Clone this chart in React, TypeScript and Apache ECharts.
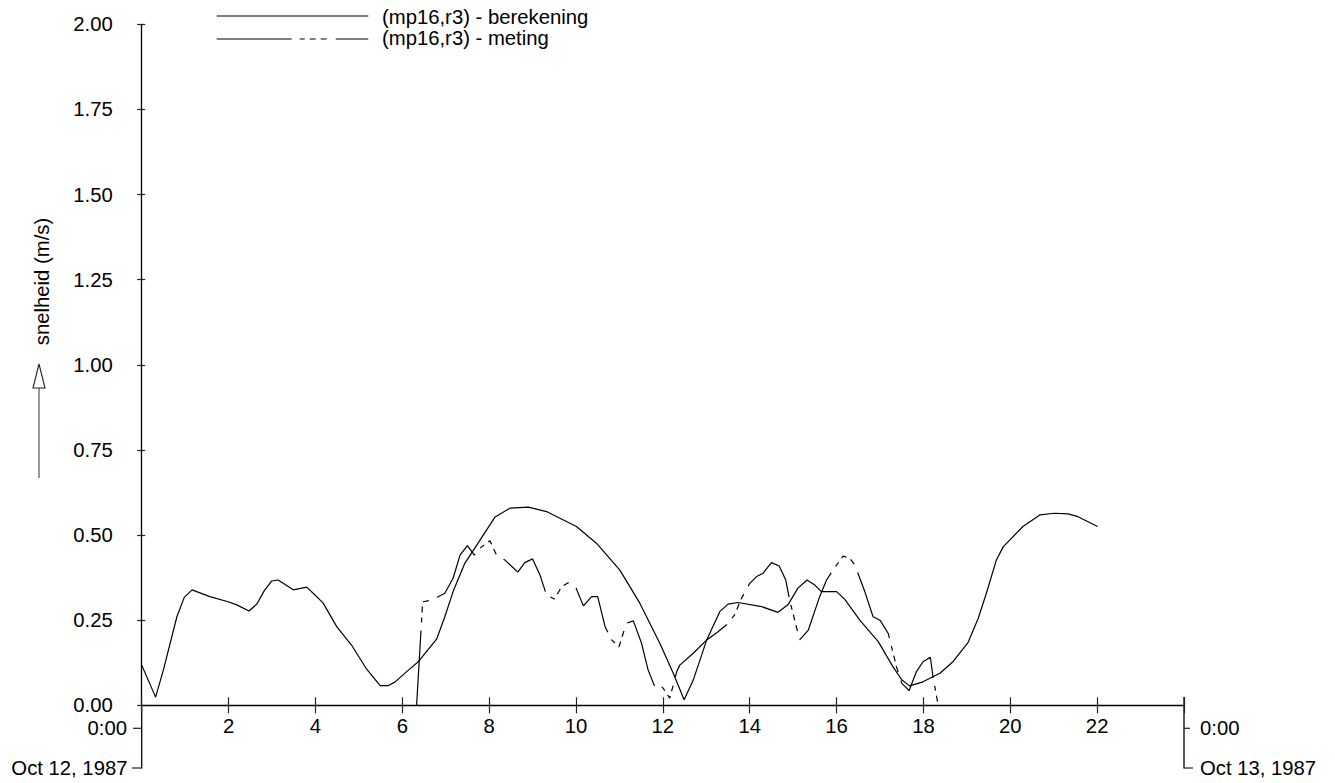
import React, { useEffect, useRef } from "react";
import * as echarts from "echarts";

const xTicks = [0, 2, 4, 6, 8, 10, 12, 14, 16, 18, 20, 22, 24];
const yTicks = [0, 0.25, 0.5, 0.75, 1.0, 1.25, 1.5, 1.75, 2.0];

const berekeningUur = [
  0, 0.32, 0.5, 0.81, 0.98, 1.16, 1.57, 1.99, 2.19, 2.47, 2.65, 2.82, 2.99, 3.14, 3.49, 3.8, 3.99, 4.18,
  4.49, 4.83, 5.18, 5.49, 5.68, 5.83, 6.1, 6.37, 6.79, 6.98, 7.17, 7.44, 7.79, 8.13, 8.48, 8.9, 9.32,
  10.01, 10.47, 11.01, 11.47, 11.93, 12.24, 12.49, 12.7, 13.01, 13.31, 13.5, 13.73, 14.27, 14.65, 14.88,
  15.11, 15.32, 15.5, 15.65, 16.0, 16.19, 16.53, 16.96, 17.3, 17.5, 17.68, 17.99, 18.38, 18.68, 19.03,
  19.26, 19.45, 19.68, 19.84, 20.29, 20.68, 21.02, 21.33, 21.56, 22.01,
];
const berekeningWaarde = [
  0.118, 0.024, 0.104, 0.26, 0.317, 0.339, 0.319, 0.304, 0.295, 0.277, 0.297, 0.336, 0.365, 0.368, 0.339,
  0.347, 0.324, 0.3, 0.231, 0.177, 0.106, 0.058, 0.058, 0.068, 0.099, 0.128, 0.194, 0.26, 0.334, 0.417,
  0.485, 0.552, 0.579, 0.582, 0.569, 0.525, 0.476, 0.397, 0.3, 0.182, 0.094, 0.016, 0.074, 0.192, 0.275,
  0.297, 0.302, 0.29, 0.273, 0.295, 0.344, 0.368, 0.353, 0.334, 0.334, 0.311, 0.251, 0.187, 0.113, 0.075,
  0.057, 0.069, 0.094, 0.128, 0.185, 0.255, 0.329, 0.427, 0.466, 0.525, 0.559, 0.564, 0.562, 0.554, 0.525,
];

const metingUur = [
  6.33, 6.47, 6.68, 6.98, 7.17, 7.33, 7.5, 7.66, 7.83, 8.02, 8.17, 8.36, 8.66, 8.82, 9.0, 9.17, 9.32, 9.5,
  9.67, 9.82, 9.99, 10.17, 10.36, 10.5, 10.67, 10.82, 10.99, 11.16, 11.32, 11.51, 11.66, 11.82, 11.99,
  12.16, 12.32, 12.39, 12.7, 13.01, 13.27, 13.46, 13.65, 13.81, 14.0, 14.16, 14.31, 14.5, 14.68, 14.83,
  14.92, 15.15, 15.35, 15.61, 15.77, 15.96, 16.15, 16.3, 16.42, 16.65, 16.84, 17.0, 17.19, 17.38, 17.5,
  17.67, 17.84, 17.99, 18.16, 18.22, 18.34,
];
const metingWaarde = [
  0.0, 0.304, 0.309, 0.329, 0.373, 0.441, 0.469, 0.441, 0.466, 0.483, 0.441, 0.427, 0.391, 0.419, 0.43,
  0.383, 0.324, 0.312, 0.348, 0.36, 0.348, 0.292, 0.319, 0.319, 0.231, 0.192, 0.172, 0.241, 0.248, 0.182,
  0.104, 0.053, 0.053, 0.021, 0.099, 0.118, 0.153, 0.192, 0.216, 0.236, 0.265, 0.314, 0.358, 0.378, 0.388,
  0.419, 0.409, 0.368, 0.309, 0.192, 0.221, 0.319, 0.368, 0.405, 0.438, 0.432, 0.412, 0.334, 0.26, 0.25,
  0.211, 0.113, 0.065, 0.043, 0.099, 0.128, 0.141, 0.084, 0.0,
];

const legendNames = ["(mp16,r3) - berekening", "(mp16,r3) - meting"];
const yTitle = "snelheid (m/s)";
const startLabels = ["0:00", "Oct 12, 1987"];
const endLabels = ["0:00", "Oct 13, 1987"];

const FONT = "'Liberation Sans', Arial, Helvetica, sans-serif";
const FS = 20.3;
const DASH = [75, 8, 5, 5, 6, 5, 6, 9];

export default function App() {
  const ref = useRef<HTMLDivElement>(null);
  useEffect(() => {
    if (!ref.current) return;
    const chart = echarts.init(ref.current, null, { renderer: "svg" });
    const X0 = 141.7;
    const X1 = 1184;
    const Y0 = 705.3;
    const Y1 = 24.3;
    const tickColor = "#222";
    const option: any = {
      animation: false,
      backgroundColor: "#fff",
      grid: { left: X0, right: 1335 - X1, top: Y1, bottom: 783 - Y0, containLabel: false },
      xAxis: [
        {
          type: "value",
          min: xTicks[0],
          max: xTicks[xTicks.length - 1],
          interval: 2,
          axisLine: { show: true, onZero: false, lineStyle: { color: "#000", width: 1.3 } },
          axisTick: { show: true, length: 8, lineStyle: { color: tickColor, width: 1.2 } },
          axisLabel: {
            margin: 11,
            fontSize: FS,
            fontFamily: FONT,
            color: "#000",
            formatter: (v: number) => (v === 0 || v === 24 ? "" : String(v)),
          },
          splitLine: { show: false },
        },
        {
          type: "value",
          min: xTicks[0],
          max: xTicks[xTicks.length - 1],
          interval: 2,
          position: "bottom",
          axisLine: { show: false, onZero: false },
          axisTick: { show: true, inside: true, length: 8, lineStyle: { color: tickColor, width: 1.2 } },
          axisLabel: { show: false },
          splitLine: { show: false },
        },
      ],
      yAxis: [
        {
          type: "value",
          min: yTicks[0],
          max: yTicks[yTicks.length - 1],
          interval: 0.25,
          axisLine: { show: true, onZero: false, lineStyle: { color: "#000", width: 1.3 } },
          axisTick: { show: true, length: 4.5, lineStyle: { color: tickColor, width: 1.2 } },
          axisLabel: {
            margin: 29,
            fontSize: FS,
            fontFamily: FONT,
            color: "#000",
            formatter: (v: number) => v.toFixed(2),
          },
          splitLine: { show: false },
        },
        {
          type: "value",
          min: yTicks[0],
          max: yTicks[yTicks.length - 1],
          interval: 0.25,
          position: "left",
          axisLine: { show: false, onZero: false },
          axisTick: { show: true, inside: true, length: 3.5, lineStyle: { color: tickColor, width: 1.2 } },
          axisLabel: { show: false },
          splitLine: { show: false },
        },
      ],
      series: [
        {
          name: legendNames[0],
          type: "line",
          xAxisIndex: 0,
          yAxisIndex: 0,
          symbol: "none",
          data: berekeningUur.map((h, i) => [h, berekeningWaarde[i]]),
          lineStyle: { color: "#000", width: 1.2 },
        },
        {
          name: legendNames[1],
          type: "line",
          xAxisIndex: 0,
          yAxisIndex: 0,
          symbol: "none",
          data: metingUur.map((h, i) => [h, metingWaarde[i]]),
          lineStyle: { color: "#000", width: 1.2, type: DASH },
        },
      ],
      graphic: [
        // legend
        { type: "line", shape: { x1: 216.7, y1: 16, x2: 368.3, y2: 16 }, style: { stroke: "#000", lineWidth: 1.2 } },
        {
          type: "text",
          x: 382,
          y: 17,
          style: { text: legendNames[0], font: `${FS}px ${FONT}`, fill: "#000", textAlign: "left", textVerticalAlign: "middle" },
        },
        {
          type: "line",
          shape: { x1: 216.7, y1: 39, x2: 368.3, y2: 39 },
          style: { stroke: "#000", lineWidth: 1.2, lineDash: DASH },
        },
        {
          type: "text",
          x: 382,
          y: 38,
          style: { text: legendNames[1], font: `${FS}px ${FONT}`, fill: "#000", textAlign: "left", textVerticalAlign: "middle" },
        },
        // y title
        {
          type: "text",
          x: 41.7,
          y: 281.5,
          rotation: Math.PI / 2,
          style: { text: yTitle, font: `${FS}px ${FONT}`, fill: "#000", textAlign: "center", textVerticalAlign: "middle" },
        },
        { type: "line", shape: { x1: 39, y1: 478, x2: 39, y2: 388 }, style: { stroke: "#555", lineWidth: 1.2 } },
        {
          type: "polygon",
          shape: { points: [[33, 388], [45, 388], [39, 364]] },
          style: { fill: "#fff", stroke: "#222", lineWidth: 1.1 },
        },
        // left bracket
        { type: "line", shape: { x1: X0, y1: Y0, x2: X0, y2: 768.5 }, style: { stroke: "#000", lineWidth: 1.3 } },
        { type: "line", shape: { x1: 133, y1: 728.3, x2: X0, y2: 728.3 }, style: { stroke: tickColor, lineWidth: 1.2 } },
        { type: "line", shape: { x1: 131.7, y1: 768, x2: X0, y2: 768 }, style: { stroke: tickColor, lineWidth: 1.2 } },
        {
          type: "text",
          x: 127,
          y: 728.3,
          style: { text: startLabels[0], font: `${FS}px ${FONT}`, fill: "#000", textAlign: "right", textVerticalAlign: "middle" },
        },
        {
          type: "text",
          x: 127.5,
          y: 768,
          style: { text: startLabels[1], font: `${FS}px ${FONT}`, fill: "#000", textAlign: "right", textVerticalAlign: "middle" },
        },
        // right bracket
        { type: "line", shape: { x1: X1, y1: 697, x2: X1, y2: 768.5 }, style: { stroke: "#000", lineWidth: 1.3 } },
        { type: "line", shape: { x1: X1, y1: 728.3, x2: 1190, y2: 728.3 }, style: { stroke: tickColor, lineWidth: 1.2 } },
        { type: "line", shape: { x1: X1, y1: 768, x2: 1193, y2: 768 }, style: { stroke: tickColor, lineWidth: 1.2 } },
        {
          type: "text",
          x: 1200,
          y: 728.3,
          style: { text: endLabels[0], font: `${FS}px ${FONT}`, fill: "#000", textAlign: "left", textVerticalAlign: "middle" },
        },
        {
          type: "text",
          x: 1200,
          y: 768,
          style: { text: endLabels[1], font: `${FS}px ${FONT}`, fill: "#000", textAlign: "left", textVerticalAlign: "middle" },
        },
      ],
    };
    chart.setOption(option);
    return () => chart.dispose();
  }, []);
  return (
    <div
      ref={ref}
      style={{ position: "absolute", left: 0, top: 0, width: 1335, height: 783, background: "#fff" }}
    />
  );
}
